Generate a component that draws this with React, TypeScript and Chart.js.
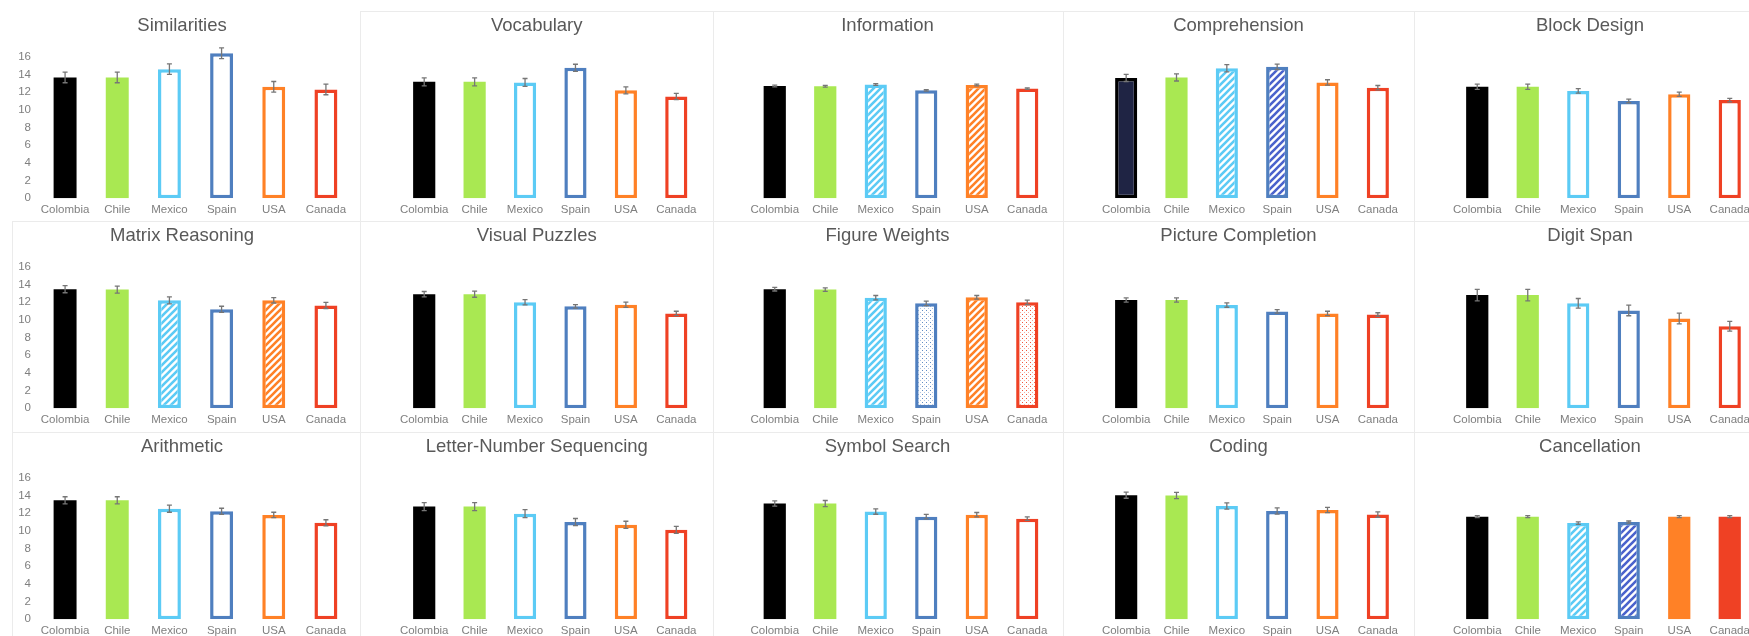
import React, { useEffect, useRef } from 'react';
import { Chart, registerables } from 'chart.js';

Chart.register(...registerables);

// ---------- data ----------
const countries = ['Colombia', 'Chile', 'Mexico', 'Spain', 'USA', 'Canada'];
const subtests = [
  'Similarities', 'Vocabulary', 'Information', 'Comprehension', 'Block Design',
  'Matrix Reasoning', 'Visual Puzzles', 'Figure Weights', 'Picture Completion', 'Digit Span',
  'Arithmetic', 'Letter-Number Sequencing', 'Symbol Search', 'Coding', 'Cancellation',
];
const yTickValues = [0, 2, 4, 6, 8, 10, 12, 14, 16];

const similaritiesMeans = [13.66, 13.66, 14.6, 16.4, 12.6, 12.3];
const similaritiesErrors = [0.6, 0.6, 0.6, 0.6, 0.6, 0.6];
const vocabularyMeans = [13.16, 13.16, 13.09, 14.75, 12.2, 11.5];
const vocabularyErrors = [0.45, 0.45, 0.45, 0.4, 0.4, 0.35];
const informationMeans = [12.7, 12.67, 12.86, 12.2, 12.8, 12.4];
const informationErrors = [0.1, 0.1, 0.1, 0.08, 0.1, 0.08];
const comprehensionMeans = [13.6, 13.66, 14.7, 14.86, 13.1, 12.5];
const comprehensionErrors = [0.4, 0.4, 0.4, 0.3, 0.3, 0.25];
const blockDesignMeans = [12.6, 12.6, 12.14, 11.0, 11.76, 11.1];
const blockDesignErrors = [0.3, 0.3, 0.25, 0.2, 0.25, 0.2];
const matrixReasoningMeans = [13.46, 13.42, 12.2, 11.18, 12.2, 11.63];
const matrixReasoningErrors = [0.4, 0.4, 0.4, 0.35, 0.3, 0.35];
const visualPuzzlesMeans = [12.9, 12.9, 11.98, 11.52, 11.7, 10.72];
const visualPuzzlesErrors = [0.3, 0.35, 0.3, 0.2, 0.3, 0.25];
const figureWeightsMeans = [13.46, 13.42, 12.5, 11.86, 12.55, 11.98];
const figureWeightsErrors = [0.2, 0.2, 0.25, 0.25, 0.2, 0.25];
const pictureCompletionMeans = [12.24, 12.24, 11.67, 10.95, 10.72, 10.6];
const pictureCompletionErrors = [0.25, 0.25, 0.25, 0.2, 0.25, 0.2];
const digitSpanMeans = [12.8, 12.8, 11.86, 11.06, 10.15, 9.28];
const digitSpanErrors = [0.65, 0.65, 0.55, 0.6, 0.6, 0.55];
const arithmeticMeans = [13.45, 13.45, 12.5, 12.2, 11.8, 10.9];
const arithmeticErrors = [0.4, 0.4, 0.4, 0.35, 0.3, 0.35];
const letterNumberMeans = [12.74, 12.74, 11.94, 10.99, 10.68, 10.11];
const letterNumberErrors = [0.45, 0.45, 0.45, 0.4, 0.4, 0.4];
const symbolSearchMeans = [13.08, 13.08, 12.17, 11.6, 11.82, 11.37];
const symbolSearchErrors = [0.3, 0.35, 0.3, 0.25, 0.25, 0.2];
const codingMeans = [14.03, 14.0, 12.81, 12.24, 12.36, 11.83];
const codingErrors = [0.35, 0.35, 0.35, 0.35, 0.3, 0.3];
const cancellationMeans = [11.6, 11.6, 10.87, 10.99, 11.6, 11.6];
const cancellationErrors = [0.12, 0.12, 0.15, 0.12, 0.12, 0.12];

const panelMeans = [
  similaritiesMeans, vocabularyMeans, informationMeans, comprehensionMeans, blockDesignMeans,
  matrixReasoningMeans, visualPuzzlesMeans, figureWeightsMeans, pictureCompletionMeans, digitSpanMeans,
  arithmeticMeans, letterNumberMeans, symbolSearchMeans, codingMeans, cancellationMeans,
];
const panelErrors = [
  similaritiesErrors, vocabularyErrors, informationErrors, comprehensionErrors, blockDesignErrors,
  matrixReasoningErrors, visualPuzzlesErrors, figureWeightsErrors, pictureCompletionErrors, digitSpanErrors,
  arithmeticErrors, letterNumberErrors, symbolSearchErrors, codingErrors, cancellationErrors,
];

// ---------- styles ----------
// S solid, O outline, H hatch, D dots, N navy fill w/ black border, B dark-blue hatch
const panelStyles = [
  ['S', 'S', 'O', 'O', 'O', 'O'],
  ['S', 'S', 'O', 'O', 'O', 'O'],
  ['S', 'S', 'H', 'O', 'H', 'O'],
  ['N', 'S', 'H', 'B', 'O', 'O'],
  ['S', 'S', 'O', 'O', 'O', 'O'],
  ['S', 'S', 'H', 'O', 'H', 'O'],
  ['S', 'S', 'O', 'O', 'O', 'O'],
  ['S', 'S', 'H', 'D', 'H', 'D'],
  ['S', 'S', 'O', 'O', 'O', 'O'],
  ['S', 'S', 'O', 'O', 'O', 'O'],
  ['S', 'S', 'O', 'O', 'O', 'O'],
  ['S', 'S', 'O', 'O', 'O', 'O'],
  ['S', 'S', 'O', 'O', 'O', 'O'],
  ['S', 'S', 'O', 'O', 'O', 'O'],
  ['S', 'S', 'H', 'B', 'S', 'S'],
];
const countryColors = ['#000000', '#a9e852', '#5ccbf5', '#4f7fbf', '#ff8126', '#ef4124'];
const spainHatchColor = '#4a62cc';
const navyFill = '#1f2444';
const FONT = '"Liberation Sans", Arial, sans-serif';

// ---------- layout ----------
const colLefts = [12, 360, 713, 1063, 1414];
const colWidths = [348, 353, 350, 351, 352];
const rowTops = [11, 221, 432];
const panelHeight = 211;
const padLeft = [0, 12, 9.5, 11, 11];
const padRight = [8, 11.5, 10.5, 11, 11];

function hatchPattern(color: string): CanvasPattern | string {
  const s = 7;
  const c = document.createElement('canvas');
  c.width = s; c.height = s;
  const ctx = c.getContext('2d');
  if (!ctx) return color;
  ctx.fillStyle = '#ffffff';
  ctx.fillRect(0, 0, s, s);
  ctx.strokeStyle = color;
  ctx.lineWidth = 2.6;
  ctx.beginPath();
  ctx.moveTo(0, s); ctx.lineTo(s, 0);
  ctx.moveTo(-2, 2); ctx.lineTo(2, -2);
  ctx.moveTo(s - 2, s + 2); ctx.lineTo(s + 2, s - 2);
  ctx.stroke();
  return ctx.createPattern(c, 'repeat') || color;
}

function dotPattern(color: string): CanvasPattern | string {
  const s = 4;
  const c = document.createElement('canvas');
  c.width = s; c.height = s;
  const ctx = c.getContext('2d');
  if (!ctx) return color;
  ctx.fillStyle = '#ffffff';
  ctx.fillRect(0, 0, s, s);
  ctx.fillStyle = color;
  ctx.globalAlpha = 0.9;
  ctx.fillRect(1, 1, 1, 1);
  ctx.globalAlpha = 0.45;
  ctx.fillRect(3, 3, 1, 1);
  return ctx.createPattern(c, 'repeat') || color;
}

const errorBarPlugin = {
  id: 'errorBars',
  afterDatasetsDraw(chart: any, _args: any, opts: any) {
    const errs: number[] = opts.errors || [];
    const meta = chart.getDatasetMeta(0);
    const yScale = chart.scales.y;
    const data = chart.data.datasets[0].data as number[];
    const ctx = chart.ctx;
    ctx.save();
    ctx.strokeStyle = '#767676';
    ctx.lineWidth = 1.3;
    meta.data.forEach((bar: any, i: number) => {
      const e = errs[i];
      if (e == null) return;
      const x = bar.x;
      const yt = yScale.getPixelForValue(data[i] + e);
      const yb = yScale.getPixelForValue(data[i] - e);
      const cap = 2.5;
      ctx.beginPath();
      ctx.moveTo(x, yt); ctx.lineTo(x, yb);
      ctx.moveTo(x - cap, yt); ctx.lineTo(x + cap, yt);
      ctx.moveTo(x - cap, yb); ctx.lineTo(x + cap, yb);
      ctx.stroke();
    });
    ctx.restore();
  },
};

function Panel({ index }: { index: number }) {
  const ref = useRef<HTMLCanvasElement>(null);
  const col = index % 5;
  const row = Math.floor(index / 5);
  const width = colWidths[col];
  useEffect(() => {
    if (!ref.current) return;
    const styles = panelStyles[index];
    const bgs = styles.map((st, i) => {
      const c = countryColors[i];
      if (st === 'S') return c;
      if (st === 'O') return '#ffffff';
      if (st === 'H') return hatchPattern(c);
      if (st === 'B') return hatchPattern(spainHatchColor);
      if (st === 'D') return dotPattern(c);
      if (st === 'N') return navyFill;
      return c;
    });
    const borders = styles.map((st, i) => (st === 'N' ? '#000000' : countryColors[i]));
    const bws = styles.map((st) => (st === 'S' ? 0 : 3.5));
    const chart = new Chart(ref.current, {
      type: 'bar',
      data: {
        labels: countries,
        datasets: [{
          data: panelMeans[index],
          backgroundColor: bgs as any,
          borderColor: borders,
          borderWidth: bws,
          borderSkipped: false,
          barPercentage: 0.44,
          categoryPercentage: 1,
        }],
      },
      options: {
        animation: false,
        responsive: false,
        maintainAspectRatio: false,
        layout: { padding: { left: padLeft[col], right: padRight[col], top: 0, bottom: 0 } },
        plugins: {
          legend: { display: false },
          tooltip: { enabled: false },
          title: {
            display: true,
            text: subtests[index],
            color: '#595959',
            font: { family: FONT, size: 18.5, weight: 'normal' },
            padding: { top: 3.5, bottom: 6.8 },
          },
          errorBars: { errors: panelErrors[index] },
        } as any,
        scales: {
          x: {
            grid: { display: false, drawTicks: false },
            border: { display: false },
            ticks: {
              color: '#7f7f7f',
              font: { family: FONT, size: 11.5 },
              padding: 5,
              maxRotation: 0,
              autoSkip: false,
            },
          },
          y: {
            display: col === 0,
            min: 0,
            max: 17.5,
            grid: { display: false, drawTicks: false },
            border: { display: false },
            afterBuildTicks: (s: any) => {
              s.ticks = yTickValues.map((v) => ({ value: v }));
            },
            afterFit: (s: any) => {
              s.width = 27;
            },
            ticks: {
              color: '#7f7f7f',
              font: { family: FONT, size: 11.5 },
              padding: 8,
            },
          },
        },
      },
      plugins: [errorBarPlugin],
    });
    return () => chart.destroy();
  }, [index]);
  const showBorder = index !== 0;
  return (
    <div
      style={{
        position: 'absolute',
        left: colLefts[col],
        top: rowTops[row],
        width,
        height: panelHeight,
        boxSizing: 'border-box',
        borderLeft: showBorder ? '1px solid #ebebeb' : 'none',
        borderTop: showBorder ? '1px solid #ebebeb' : 'none',
      }}
    >
      <canvas
        ref={ref}
        width={width}
        height={panelHeight}
        style={{ position: 'absolute', left: showBorder ? -1 : 0, top: showBorder ? -1 : 0, width, height: panelHeight }}
      />
    </div>
  );
}

export default function App() {
  return (
    <div
      style={{
        position: 'fixed',
        left: 0,
        top: 0,
        width: 1749,
        height: 636,
        overflow: 'hidden',
        background: '#ffffff',
      }}
    >
      {subtests.map((_, i) => (
        <Panel key={i} index={i} />
      ))}
    </div>
  );
}
